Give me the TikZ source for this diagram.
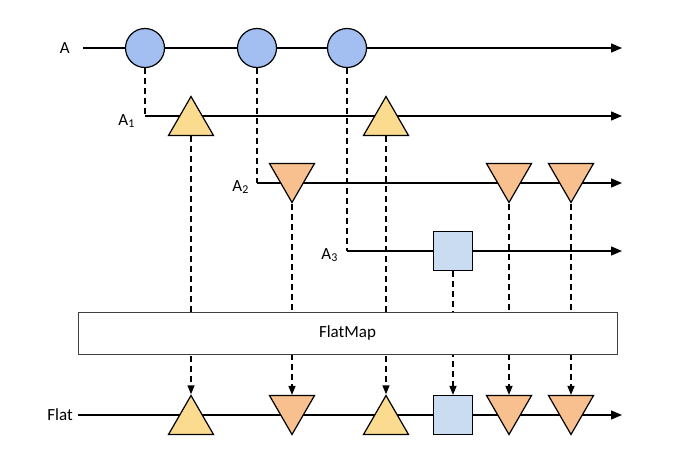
\documentclass[tikz,border=0pt]{standalone}
\usepackage{fontspec}
\setmainfont{Carlito}
\usepackage{tikz}
\usetikzlibrary{shapes.geometric,arrows.meta,positioning}

\definecolor{ballblue}{RGB}{163,190,240}
\definecolor{upyellow}{RGB}{251,219,143}
\definecolor{downorange}{RGB}{247,192,142}
\definecolor{sqblue}{RGB}{201,220,242}

\begin{document}
\begin{tikzpicture}[x=1pt,y=-1pt,font=\fontsize{17}{20}\selectfont,
  ball/.style={circle, draw, line width=1.2pt, fill=ballblue, minimum size=39pt, inner sep=0pt},
  upnode/.style={regular polygon, regular polygon sides=3, draw, line width=1.2pt, fill=upyellow, minimum size=52pt, inner sep=0pt, yshift=-6.5pt},
  downnode/.style={regular polygon, regular polygon sides=3, shape border rotate=180, draw, line width=1.2pt, fill=downorange, minimum size=52pt, inner sep=0pt, yshift=6.5pt},
  sqnode/.style={rectangle, draw, line width=1.2pt, fill=sqblue, minimum size=39pt, inner sep=0pt},
  flow/.style={line width=1.3pt, -{Triangle[length=11pt,width=9pt]}},
  link/.style={line width=1.4pt, dash pattern=on 6pt off 4pt},
  linkarrow/.style={link, -{Triangle[length=9pt,width=7pt]}},
  lbl/.style={inner sep=0pt}]

\useasboundingbox (0,0) rectangle (690,456);

% ends of the streams
\coordinate (as) at (83,48);   \coordinate (ae) at (622,48);
\coordinate (a1s) at (145,116); \coordinate (a1e) at (622,116);
\coordinate (a2s) at (257,183); \coordinate (a2e) at (622,183);
\coordinate (a3s) at (347,251); \coordinate (a3e) at (622,251);
\coordinate (fs) at (78,415);  \coordinate (fe) at (622,415);

\draw[flow] (as) -- (ae);
\draw[flow] (a1s) -- (a1e);
\draw[flow] (a2s) -- (a2e);
\draw[flow] (a3s) -- (a3e);
\draw[flow] (fs) -- (fe);

\node[lbl, left=13pt of as] (la) {A};
\node[lbl, left=10pt of a1s, yshift=-5pt] (la1) {A\textsubscript{1}};
\node[lbl, left=8pt of a2s, yshift=-4pt] (la2) {A\textsubscript{2}};
\node[lbl, left=9pt of a3s, yshift=-4pt] (la3) {A\textsubscript{3}};
\node[lbl, left=5pt of fs] (lf) {Flat};

\node[ball] (c1) at (145,48) {};
\node[ball] (c2) at (257,48) {};
\node[ball] (c3) at (347,48) {};

\node[upnode] (t1) at (191,116) {};
\node[upnode] (t2) at (386,116) {};

\node[downnode] (d1) at (292,183) {};
\node[downnode] (d2) at (509,183) {};
\node[downnode] (d3) at (571,183) {};

\node[sqnode] (s1) at (453,251) {};

\node[upnode] (f1) at (191,415) {};
\node[downnode] (f2) at (292,415) {};
\node[upnode] (f3) at (386,415) {};
\node[sqnode] (f4) at (453,415) {};
\node[downnode] (f5) at (509,415) {};
\node[downnode] (f6) at (571,415) {};

\draw[link] (c1.south) -- (a1s);
\draw[link] (c2.south) -- (a2s);
\draw[link] (c3.south) -- (a3s);

\draw[linkarrow] (t1.south) -- (f1.north);
\draw[linkarrow] (d1.south) -- (f2.north);
\draw[linkarrow] (t2.south) -- (f3.north);
\draw[linkarrow] (s1.south) -- (f4.north);
\draw[linkarrow] (d2.south) -- (f5.north);
\draw[linkarrow] (d3.south) -- (f6.north);

%盖住中间的虚线
\node[draw=black!75, line width=1pt, fill=white, minimum width=539pt, minimum height=42pt] (fm) at (347.5,333) {FlatMap};
\end{tikzpicture}
\end{document}
